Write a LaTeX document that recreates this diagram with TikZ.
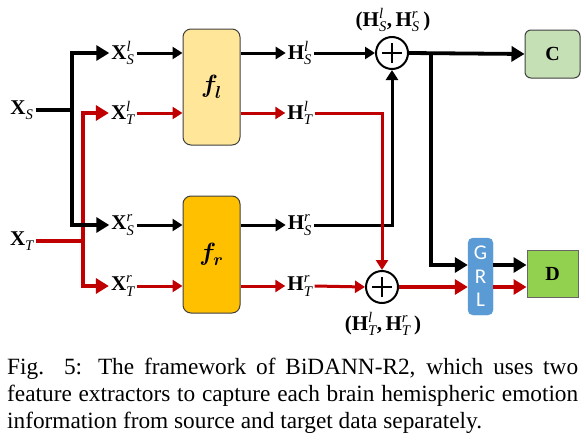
\documentclass[tikz,border=0pt]{standalone}
\usepackage{amsmath}
\usepackage{fontspec}
\setmainfont{Liberation Serif}
\newfontfamily\grlfont{Carlito}
\usetikzlibrary{arrows.meta,calc}
\definecolor{myred}{HTML}{C00000}
\definecolor{flfill}{HTML}{FFE699}
\definecolor{frfill}{HTML}{FFC000}
\definecolor{cfill}{HTML}{C5E0B4}
\definecolor{dfill}{HTML}{92D050}
\definecolor{grlfill}{HTML}{5B9BD5}
\newcommand{\lab}[3]{$\textbf{#1}^{\textit{#2}}_{\textit{#3}}$}
\newcommand{\pairlab}[4]{\textbf{(}$\textbf{H}^{\textit{#1}}_{\textit{#2}}$\textbf{,}\,$\textbf{H}^{\textit{#3}}_{\textit{#4}}$\,\textbf{)}}
\newcommand{\fsub}[1]{$\boldsymbol{f}_{\!\boldsymbol{#1}}$}
\begin{document}
\begin{tikzpicture}[x=1pt,y=-1pt,
  lbl/.style={font=\fontsize{21}{25}\selectfont, inner sep=2pt},
  fbox/.style={draw=black!75, line width=1pt, rounded corners=8pt, minimum width=57pt, inner sep=0pt},
  thinarr/.style={line width=3pt, -{Triangle[length=10pt,width=12pt]}},
  bigarr/.style={line width=3.8pt, -{Triangle[length=13pt,width=15pt]}, line join=miter},
  tk/.style={line width=3.8pt, line join=miter},
  plus/.style={circle, draw, line width=2pt, minimum size=32pt, inner sep=0pt,
    path picture={
      \draw[line width=1.8pt] ($(path picture bounding box.center)+(-10pt,0)$) -- ++(20pt,0);
      \draw[line width=1.8pt] ($(path picture bounding box.center)+(0,-10pt)$) -- ++(0,20pt);}},
  capt/.style={font=\fontsize{23.3}{27}\selectfont, inner sep=0pt, anchor=base west}
]
\useasboundingbox (0,0) rectangle (586,439);

% input labels
\node[lbl] (XS) at (22,110) {\lab{X}{}{S}};
\node[lbl] (XT) at (22,241) {\lab{X}{}{T}};
\coordinate (vS) at (72,110);
\coordinate (vT) at (83,241);

\node[lbl] (XSl) at (123,53) {\lab{X}{l}{S}};
\node[lbl] (XTl) at (123,113) {\lab{X}{l}{T}};
\node[lbl] (XSr) at (123,225) {\lab{X}{r}{S}};
\node[lbl] (XTr) at (123,286) {\lab{X}{r}{T}};

% feature extractors
\node[fbox, fill=flfill, minimum height=116pt, font=\fontsize{25}{29}\selectfont] (fl) at (211.5,87) {\fsub{l}};
\node[fbox, fill=frfill, minimum height=117pt, font=\fontsize{25}{29}\selectfont] (fr) at (211.5,254.5) {\fsub{r}};

\node[lbl] (HSl) at (300,53) {\lab{H}{l}{S}};
\node[lbl] (HTl) at (300,113) {\lab{H}{l}{T}};
\node[lbl] (HSr) at (300,225) {\lab{H}{r}{S}};
\node[lbl] (HTr) at (300,286) {\lab{H}{r}{T}};

% sums
\node[plus] (p1) at (392,53) {};
\node[plus] (p2) at (382,287) {};
\node[lbl] (pl1) at (393,20) {\pairlab{l}{S}{r}{S}};
\node[lbl] (pl2) at (383,324) {\pairlab{l}{T}{r}{T}};

% classifier, GRL, discriminator
\node[draw=black!75, line width=1pt, rounded corners=6pt, fill=cfill, minimum width=55pt, minimum height=48pt, font=\fontsize{20}{24}\selectfont\bfseries] (C) at (552.5,54) {C};
\node[draw=grlfill, fill=grlfill, rounded corners=5pt, minimum width=25pt, minimum height=77pt, inner sep=0pt, text=white, font=\grlfont\fontsize{21}{23.5}\selectfont, align=center] (GRL) at (480.5,276.5) {G\\R\\L};
\node[draw=black!60, line width=1pt, fill=dfill, minimum width=51pt, minimum height=47pt, font=\fontsize{20}{24}\selectfont\bfseries] (D) at (552.5,273.5) {D};

% input routing
\draw[tk, myred] (XT.east) -- (vT);
\draw[bigarr, myred] (vT) |- (XTl.west);
\draw[bigarr, myred] (vT) |- (XTr.west);
\draw[tk] (XS.east) -- (vS);
\draw[bigarr] (vS) |- (XSl.west);
\draw[bigarr] (vS) |- (XSr.west);

% into/out of extractors
\draw[thinarr] (XSl.east) -- (XSl.east -| fl.west);
\draw[thinarr, myred] (XTl.east) -- (XTl.east -| fl.west);
\draw[thinarr] (XSr.east) -- (XSr.east -| fr.west);
\draw[thinarr, myred] (XTr.east) -- (XTr.east -| fr.west);
\draw[thinarr] (HSl.west -| fl.east) -- (HSl.west);
\draw[thinarr, myred] (HTl.west -| fl.east) -- (HTl.west);
\draw[thinarr] (HSr.west -| fr.east) -- (HSr.west);
\draw[thinarr, myred] (HTr.west -| fr.east) -- (HTr.west);

% to sums
\draw[thinarr] (HSl.east) -- (p1.west);
\draw[thinarr, line join=miter] (HSr.east) -| (p1.south);
\draw[thinarr, myred, line join=miter] (HTl.east) -| (p2.north);
\draw[thinarr, myred] (HTr.east) -- (p2.west);

% outputs
\coordinate (br) at (431,53);
\draw[bigarr] (p1.east) -- (C.west);
\draw[bigarr] (br) |- ($(GRL.west)+(0,-11.5)$);
\draw[bigarr, myred] (p2.east) -- (GRL.west |- p2.east);
\draw[bigarr] ($(GRL.east)+(0,-11.5)$) -- ($(D.west)+(0,-8.5)$);
\draw[bigarr, myred] ($(GRL.east)+(0,10.5)$) -- ($(D.west)+(0,13.5)$);

% caption
\node[capt] (cap1) at (7,374) {\makebox[571pt][s]{Fig. 5: The framework of BiDANN-R2, which uses two}};
\node[capt] (cap2) at (7,401) {\makebox[571pt][s]{feature extractors to capture each brain hemispheric emotion}};
\node[capt] (cap3) at (7,428) {information from source and target data separately.};
\end{tikzpicture}
\end{document}
